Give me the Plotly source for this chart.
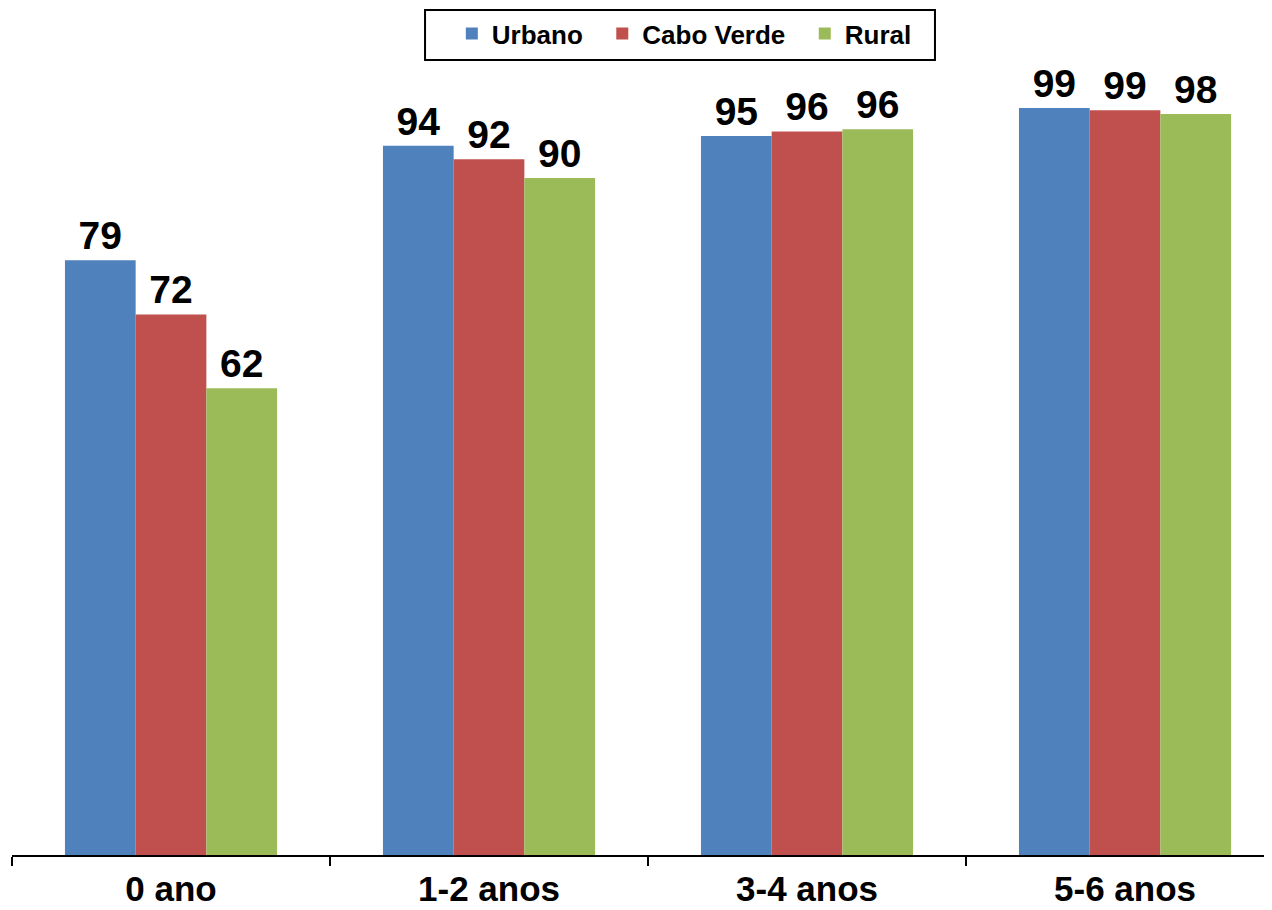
import plotly.graph_objects as go

categories = ['0 ano', '1-2 anos', '3-4 anos', '5-6 anos']
urbano = [79.0, 94.2, 95.5, 99.2]
cabo_verde = [71.8, 92.4, 96.1, 98.9]
rural = [62.0, 89.9, 96.4, 98.4]

urbano_lbl = ['79', '94', '95', '99']
cabo_verde_lbl = ['72', '92', '96', '99']
rural_lbl = ['62', '90', '96', '98']

FONT = 'Arial, Liberation Sans, sans-serif'
NB = '\u00a0'

series = [
    ('Urbano' + NB * 2, urbano, urbano_lbl, '#4F81BD'),
    ('Cabo Verde' + NB * 2, cabo_verde, cabo_verde_lbl, '#C0504D'),
    ('Rural', rural, rural_lbl, '#9BBB59'),
]

fig = go.Figure()
for name, vals, lbls, color in series:
    fig.add_trace(go.Bar(
        x=categories,
        y=vals,
        name=name,
        text=lbls,
        textposition='outside',
        textfont=dict(family=FONT, size=39, color='black', weight='bold'),
        marker=dict(color=color, line=dict(width=0)),
        cliponaxis=False,
    ))

# page body has an 8px margin -> shift everything by that
fig.update_layout(
    width=1256,
    height=902,
    barmode='group',
    bargap=0.333,
    bargroupgap=0,
    plot_bgcolor='white',
    paper_bgcolor='white',
    margin=dict(l=4, r=0, t=12, b=55, autoexpand=False),
    font=dict(family=FONT, color='black'),
    legend=dict(
        orientation='h',
        x=0.537, xanchor='center',
        y=1.012, yanchor='top',
        borderwidth=0,
        bgcolor='rgba(0,0,0,0)',
        font=dict(family=FONT, size=26, weight='bold'),
    ),
    # legend frame
    shapes=[dict(
        type='rect', xref='paper', yref='paper',
        x0=0.3299, x1=0.7372, y0=0.952, y1=1.012,
        line=dict(color='black', width=2), fillcolor='white', layer='below',
    )],
)
fig.update_xaxes(
    range=[-0.5, 3.437],
    automargin=False,
    showline=True, linecolor='black', linewidth=2,
    ticks='outside', tickson='boundaries', ticklen=9, tickwidth=2, tickcolor='black',
    ticklabelstandoff=2,
    tickfont=dict(family=FONT, size=35, weight='bold', color='black'),
)
fig.update_yaxes(range=[0, 110.9], visible=False, showgrid=False, automargin=False)

fig.write_html("out.html")
